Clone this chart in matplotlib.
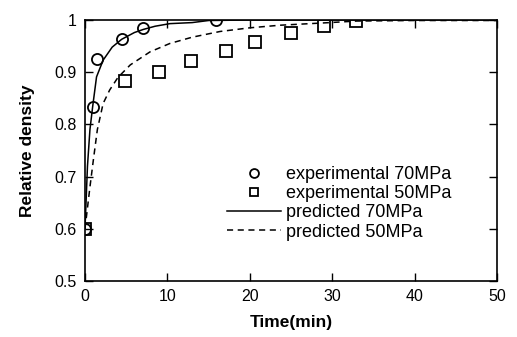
import numpy as np
import matplotlib
matplotlib.use('Agg')
import matplotlib.pyplot as plt

plt.rcParams['font.family'] = ['Liberation Sans', 'DejaVu Sans']

# experimental points
t_exp70 = [0.0, 0.93, 1.5, 4.45, 7.1, 15.9]
d_exp70 = [0.600, 0.834, 0.925, 0.963, 0.984, 1.000]
t_exp50 = [0.0, 4.9, 9.0, 12.9, 17.1, 20.6, 25.0, 29.0, 32.9]
d_exp50 = [0.600, 0.884, 0.901, 0.921, 0.941, 0.958, 0.976, 0.988, 0.999]

# predicted curves
t_pred70 = [0.0, 0.15, 0.3, 0.6, 0.93, 1.4, 2.2, 3.3, 4.45, 6.0, 7.1, 8.5, 10.3, 13.0, 15.0, 20.0, 30.0, 50.0]
d_pred70 = [0.600, 0.66, 0.72, 0.79, 0.834, 0.891, 0.923, 0.948, 0.963, 0.976, 0.982, 0.988, 0.993, 0.995, 0.999, 1.000, 1.000, 1.000]
t_pred50 = [0.0, 0.3, 0.6, 1.0, 1.5, 2.2, 3.0, 4.0, 5.5, 7.9, 10.3, 13.0, 16.4, 20.0, 23.7, 29.7, 33.0, 40.0, 50.0]
d_pred50 = [0.600, 0.64, 0.68, 0.73, 0.79, 0.84, 0.866, 0.89, 0.914, 0.939, 0.955, 0.967, 0.978, 0.985, 0.990, 0.995, 0.998, 0.999, 0.999]

fig = plt.figure(figsize=(5.17, 3.37), dpi=100)
ax = fig.add_axes([0.1644, 0.1662, 0.7969, 0.7745])

ax.plot(t_exp70, d_exp70, 'o', mfc='none', mec='k', ms=8, mew=1.3, label='experimental 70MPa')
ax.plot(t_exp50, d_exp50, 's', mfc='none', mec='k', ms=8, mew=1.3, label='experimental 50MPa')
ax.plot(t_pred70, d_pred70, '-', color='k', lw=1.1, label='predicted 70MPa')
ax.plot(t_pred50, d_pred50, '--', color='k', lw=1.1, dashes=(4, 3), label='predicted 50MPa')

ax.set_xlim(0, 50)
ax.set_ylim(0.5, 1.0)
ax.set_xticks([0, 10, 20, 30, 40, 50])
ax.set_yticks([0.5, 0.6, 0.7, 0.8, 0.9, 1.0])
ax.set_yticklabels(['0.5', '0.6', '0.7', '0.8', '0.9', '1'])
ax.tick_params(direction='in', top=True, right=True, length=6, width=1, labelsize=11.5, pad=6)
for s in ax.spines.values():
    s.set_linewidth(1.2)

ax.set_xlabel('Time(min)', fontsize=12.5, fontweight='bold', labelpad=8)
ax.set_ylabel('Relative density', fontsize=12.5, fontweight='bold', labelpad=14)

ax.legend(loc='upper left', bbox_to_anchor=(0.345, 0.44), frameon=False, fontsize=13,
          handlelength=3.0, labelspacing=0.12, handletextpad=0.25, borderpad=0.0,
          borderaxespad=0.0, markerscale=0.8)

fig.savefig('out.png', dpi=100)
